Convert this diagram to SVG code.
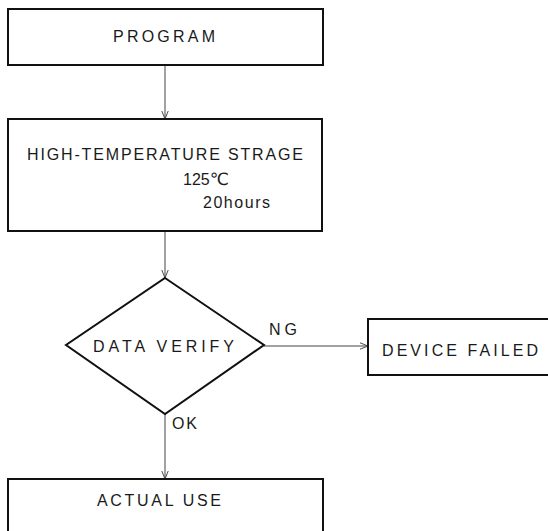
<svg xmlns="http://www.w3.org/2000/svg" width="548" height="531" viewBox="0 0 548 531">
  <style>
    .box { fill: #fff; stroke: #111; stroke-width: 2; }
    .lbl { font-family: "Liberation Sans", Arial, sans-serif; font-size: 16px; fill: #1a1a1a; }
    .deg { font-family: "DejaVu Sans", sans-serif; font-size: 17px; }
    .conn { stroke: #444; stroke-width: 1; fill: none; }
  </style>
  <defs>
    <marker id="arrow" viewBox="0 0 10 10" refX="10" refY="5" markerWidth="8" markerHeight="8" orient="auto" markerUnits="userSpaceOnUse">
      <path d="M0,1 L10,5 L0,9" fill="none" stroke="#444" stroke-width="1.2"/>
    </marker>
  </defs>
  <rect width="548" height="531" fill="#fff"/>

  <g id="connectors">
    <line class="conn" x1="165" y1="65" x2="165" y2="119" marker-end="url(#arrow)"/>
    <line class="conn" x1="165" y1="231" x2="165" y2="278" marker-end="url(#arrow)"/>
    <line class="conn" x1="264" y1="346" x2="368" y2="346" marker-end="url(#arrow)"/>
    <line class="conn" x1="165" y1="414" x2="165" y2="479" marker-end="url(#arrow)"/>
    <text class="lbl" x="269" y="335" textLength="28" lengthAdjust="spacing">NG</text>
    <text class="lbl" x="172" y="429" textLength="25" lengthAdjust="spacing">OK</text>
  </g>

  <g id="program">
    <rect class="box" x="8" y="9" width="315" height="56"/>
    <text class="lbl" x="113" y="42" textLength="102" lengthAdjust="spacing">PROGRAM</text>
  </g>

  <g id="storage">
    <rect class="box" x="8" y="119" width="314" height="112"/>
    <text class="lbl" x="27" y="160" textLength="276" lengthAdjust="spacing">HIGH-TEMPERATURE STRAGE</text>
    <text class="lbl" x="183" y="185">125<tspan class="deg">℃</tspan></text>
    <text class="lbl" x="203" y="208" textLength="67" lengthAdjust="spacing">20hours</text>
  </g>

  <g id="verify">
    <polygon class="box" points="165,278 264,345 165,414 66,345"/>
    <text class="lbl" x="93" y="352" textLength="141" lengthAdjust="spacing">DATA VERIFY</text>
  </g>

  <g id="failed">
    <rect class="box" x="368" y="319" width="190" height="56"/>
    <text class="lbl" x="382" y="356" textLength="156" lengthAdjust="spacing">DEVICE FAILED</text>
  </g>

  <g id="actual-use">
    <rect class="box" x="8" y="479" width="315" height="70"/>
    <text class="lbl" x="97" y="506" textLength="124" lengthAdjust="spacing">ACTUAL USE</text>
  </g>
</svg>
